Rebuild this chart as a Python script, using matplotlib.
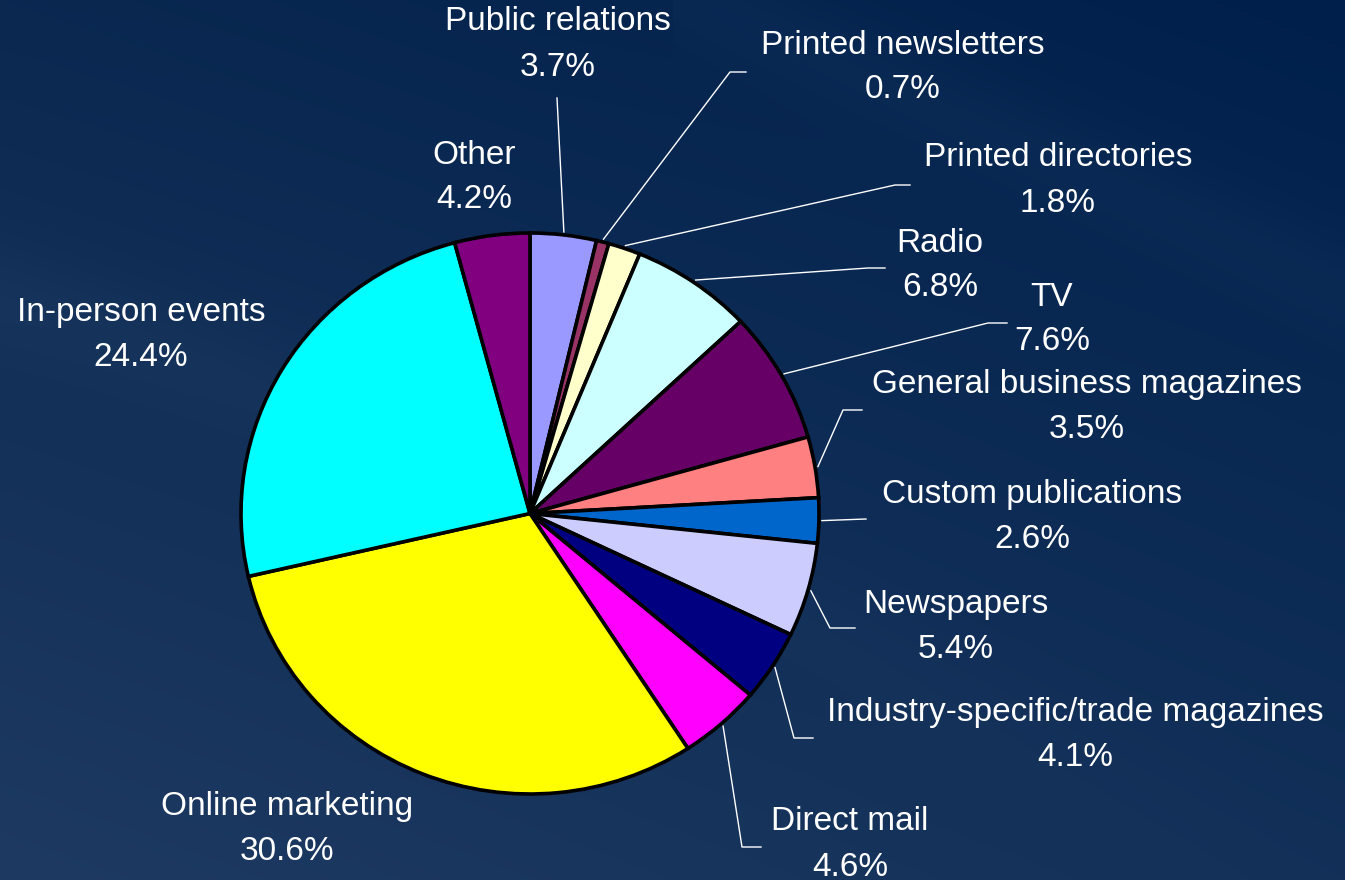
import numpy as np
import matplotlib
matplotlib.use("Agg")
import matplotlib.pyplot as plt

categories = ["Public relations", "Printed newsletters", "Printed directories", "Radio", "TV",
              "General business magazines", "Custom publications", "Newspapers",
              "Industry-specific/trade magazines", "Direct mail", "Online marketing",
              "In-person events", "Other"]
values = [3.7, 0.7, 1.8, 6.8, 7.6, 3.5, 2.6, 5.4, 4.1, 4.6, 30.6, 24.4, 4.2]
colors = ["#9999FF", "#993366", "#FFFFCC", "#CCFFFF", "#660066", "#FF8080", "#0066CC",
          "#CCCCFF", "#000080", "#FF00FF", "#FFFF00", "#00FFFF", "#800080"]

# layout (pixels): label centre x, first-line y; leader elbow and end (None = no leader)
label_pos = [(558, 22), (903, 45), (1058, 158), (940, 243), (1052, 297), (1087, 384),
             (1032, 494), (956, 604), (1075, 713), (850, 822), (287, 807), (141, 312), (474, 155)]
leaders = [((557, 98), None), ((730, 72), (746, 72)), ((895, 185), (910, 185)),
           ((868, 268), (885, 268)), ((988, 323), (1007, 323)), ((843, 410), (862, 410)),
           (None, (866, 519)), ((830, 628), (855, 628)), ((794, 738), (813, 738)),
           ((742, 847), (761, 847)), None, None, None]

W, H = 1345, 880
fig = plt.figure(figsize=(W / 100, H / 100), dpi=100)

# background
bg = fig.add_axes([0, 0, 1, 1])
yy, xx = np.mgrid[0:H, 0:W]
u = xx / W
v = yy / H
TL = np.array([10, 40, 80]); TR = np.array([0, 32, 76])
BL = np.array([30, 58, 98]); BR = np.array([18, 48, 88])
img = ((1 - u)[..., None] * (1 - v)[..., None] * TL + u[..., None] * (1 - v)[..., None] * TR
       + (1 - u)[..., None] * v[..., None] * BL + u[..., None] * v[..., None] * BR)
# subtle light streaks
d1 = yy - (300 + 0.30 * xx + 0.00012 * xx ** 2)
img += 5 * np.exp(-(d1 / 60.0) ** 2)[..., None] * (1 - u)[..., None]
d2 = yy - (0 + 0.45 * (xx - 700))
img += 4 * np.exp(-(d2 / 50.0) ** 2)[..., None] * (u > 0.5)[..., None]
img = np.clip(img / 255.0, 0, 1)
bg.imshow(img, extent=(0, W, H, 0), aspect="auto")
bg.set_xlim(0, W); bg.set_ylim(H, 0)
bg.axis("off")

# pie (slightly elliptical as in reference)
cx, cy, rx, ry = 530, 513.5, 289, 280.5
pax = fig.add_axes([(cx - rx) / W, (H - cy - ry) / H, 2 * rx / W, 2 * ry / H])
pax.pie(values, colors=colors, startangle=90, counterclock=False,
        wedgeprops=dict(edgecolor="black", linewidth=2.6))
pax.set_aspect("auto")
pax.set_xlim(-1, 1); pax.set_ylim(-1, 1)
pax.axis("off")

# labels and leaders on overlay
ov = fig.add_axes([0, 0, 1, 1])
ov.set_xlim(0, W); ov.set_ylim(H, 0)
ov.axis("off")
font = dict(family=["Liberation Sans", "DejaVu Sans"], fontsize=24, color="white")
cum = 0.0
for name, val, (lx, ly), ld in zip(categories, values, label_pos, leaders):
    mid = 90 - 360 * (cum + val / 2) / 100.0
    cum += val
    if ld is not None:
        sx = cx + (rx + 3) * np.cos(np.radians(mid))
        sy = cy - (ry + 3) * np.sin(np.radians(mid))
        pts = [(sx, sy)] + [p for p in ld if p is not None]
        ov.plot([p[0] for p in pts], [p[1] for p in pts], color="white", lw=1.0)
    ov.text(lx, ly, name, ha="center", va="center", **font)
    ov.text(lx, ly + 45, f"{val:.1f}%", ha="center", va="center", **font)

fig.savefig("out.png", dpi=100)
